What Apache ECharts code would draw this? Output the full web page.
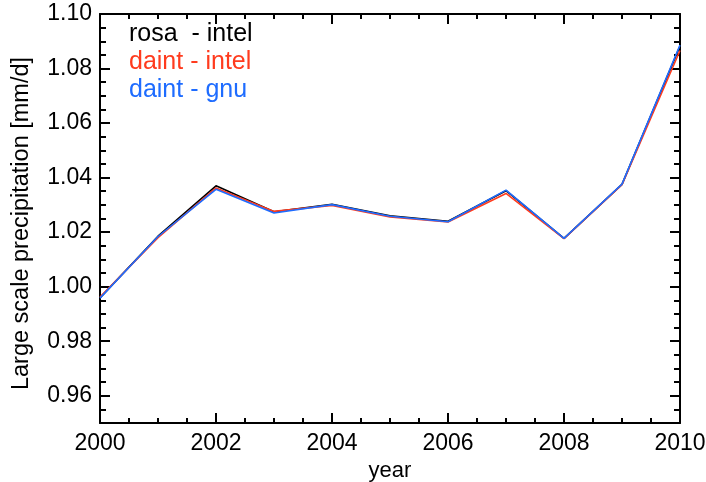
<!DOCTYPE html>
<html>
<head>
<meta charset="utf-8">
<script src="https://cdn.jsdelivr.net/npm/echarts@6/dist/echarts.min.js"></script>
<style>
  html, body { margin: 0; padding: 0; background: #fff; }
  #chart { width: 706px; height: 482px; }
</style>
</head>
<body>
<div id="chart"></div>
<script>
// years on x
var years = [2000, 2001, 2002, 2003, 2004, 2005, 2006, 2007, 2008, 2009, 2010];
// series names
var seriesNames = ['rosa  - intel', 'daint - intel', 'daint - gnu'];
// large scale precipitation [mm/d]
var rosaIntel  = [0.9959, 1.0185, 1.0370, 1.0275, 1.0302, 1.0260, 1.0240, 1.0352, 1.0177, 1.0375, 1.0882];
var daintIntel = [0.9962, 1.0180, 1.0362, 1.0276, 1.0298, 1.0256, 1.0237, 1.0342, 1.0176, 1.0374, 1.0866];
var daintGnu   = [0.9958, 1.0184, 1.0357, 1.0270, 1.0301, 1.0258, 1.0238, 1.0354, 1.0177, 1.0376, 1.0886];
// y tick labels
var yTicks = [0.96, 0.98, 1.00, 1.02, 1.04, 1.06, 1.08, 1.10];

var colors = ['#000000', '#ff3b1e', '#1e6cff'];
var font = 'Liberation Sans, Arial, sans-serif';

function pairs(vals) {
  var out = [];
  for (var i = 0; i < years.length; i++) {
    out.push([years[i], vals[i]]);
  }
  return out;
}

var myChart = echarts.init(document.getElementById('chart'));

// frame axes: majors carry labels, minors only short ticks
var yMajor = function (pos, labels) {
  return {
    type: 'value', position: pos, min: 0.95, max: 1.10,
    axisLine: { show: true, onZero: false, lineStyle: { color: '#000', width: 2 } },
    axisTick: { show: true, inside: true, length: 10, customValues: yTicks, lineStyle: { color: '#000', width: 2 } },
    axisLabel: {
      show: labels, customValues: yTicks, margin: 8,
      color: '#000', fontSize: 23, fontFamily: font,
      formatter: function (v) { return v.toFixed(2); }
    },
    splitLine: { show: false }
  };
};
var yMinor = function (pos) {
  return {
    type: 'value', position: pos, min: 0.95, max: 1.10, interval: 0.005,
    axisLine: { show: false, onZero: false },
    axisTick: { show: true, inside: true, length: 6, lineStyle: { color: '#000', width: 2 } },
    axisLabel: { show: false },
    splitLine: { show: false }
  };
};
var xAxisDef = function (pos, labels) {
  return {
    type: 'value', position: pos, min: 2000, max: 2010, interval: 2,
    name: labels ? 'year' : '',
    nameLocation: 'middle', nameGap: 35,
    nameTextStyle: { color: '#000', fontSize: 22, fontFamily: font },
    axisLine: { show: true, onZero: false, lineStyle: { color: '#000', width: 2 } },
    axisTick: { show: true, inside: true, length: 10, lineStyle: { color: '#000', width: 2 } },
    minorTick: { show: true, splitNumber: 4, length: 5, lineStyle: { color: '#000', width: 2 } },
    axisLabel: {
      show: labels, margin: 9, color: '#000', fontSize: 23, fontFamily: font,
      formatter: function (v) { return String(v); }
    },
    splitLine: { show: false },
    minorSplitLine: { show: false }
  };
};

var yLeft = yMajor('left', true);
yLeft.name = 'Large scale precipitation [mm/d]';
yLeft.nameLocation = 'middle';
yLeft.nameGap = 66;
yLeft.nameTextStyle = { color: '#000', fontSize: 23.5, fontFamily: font, padding: [0, 10, 0, 0] };

var option = {
  backgroundColor: '#fff',
  animation: false,
  grid: { left: 100, right: 26, top: 14, bottom: 59, containLabel: false, outerBoundsMode: 'none' },
  legend: {
    orient: 'vertical',
    left: 119, top: 17,
    icon: 'none', itemWidth: 0, itemHeight: 0, itemGap: 3,
    textStyle: { fontSize: 25, fontFamily: font },
    data: [
      { name: seriesNames[0], textStyle: { color: colors[0] } },
      { name: seriesNames[1], textStyle: { color: colors[1] } },
      { name: seriesNames[2], textStyle: { color: colors[2] } }
    ]
  },
  xAxis: [xAxisDef('bottom', true), xAxisDef('top', false)],
  yAxis: [yLeft, yMinor('left'), yMajor('right', false), yMinor('right')],
  series: [
    { name: seriesNames[0], type: 'line', data: pairs(rosaIntel), showSymbol: false, symbol: 'none',
      lineStyle: { color: colors[0], width: 1.6 }, itemStyle: { color: colors[0] } },
    { name: seriesNames[1], type: 'line', data: pairs(daintIntel), showSymbol: false, symbol: 'none',
      lineStyle: { color: colors[1], width: 1.6 }, itemStyle: { color: colors[1] } },
    { name: seriesNames[2], type: 'line', data: pairs(daintGnu), showSymbol: false, symbol: 'none',
      lineStyle: { color: colors[2], width: 1.6 }, itemStyle: { color: colors[2] } }
  ]
};
myChart.setOption(option);
</script>
</body>
</html>
